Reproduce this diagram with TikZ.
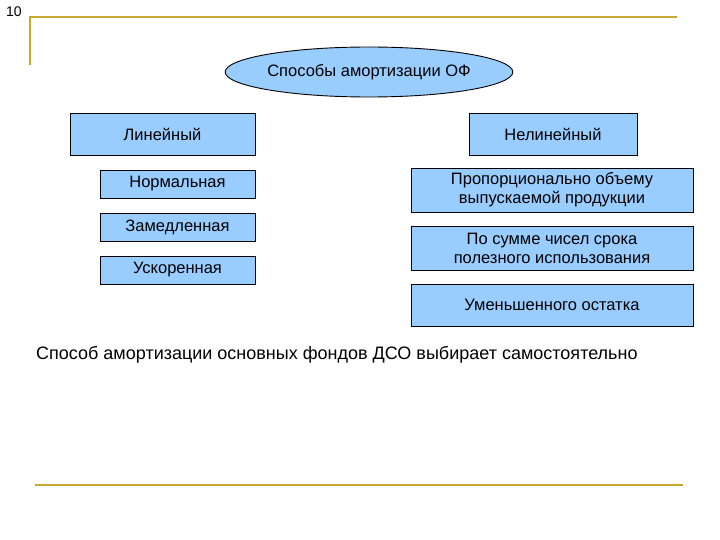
\documentclass[tikz,border=0pt]{standalone}
\usepackage{fontspec}
\setmainfont{Liberation Sans}
\usetikzlibrary{shapes.geometric}
\definecolor{bl}{HTML}{99CCFF}
\definecolor{gold}{HTML}{C8A830}
\begin{document}
\begin{tikzpicture}[x=1pt,y=-1pt,
  bx/.style={draw=black,fill=bl,line width=0.9pt,inner sep=0pt,align=center,font=\fontsize{16.5}{19}\selectfont},
  gl/.style={draw=gold,line width=2.5pt}]
\useasboundingbox (0,0) rectangle (720,540);
\node (num) at (14,12) {\fontsize{14}{15}\selectfont 10};
\coordinate (t1) at (30,65); \coordinate (t2) at (30,17); \coordinate (t3) at (677,17);
\draw[gl] (t1) -- (t2) -- (t3);
\coordinate (b1) at (35,485); \coordinate (b2) at (683,485);
\draw[gl] (b1) -- (b2);
\node[ellipse,draw=black,fill=bl,line width=0.9pt,minimum width=282pt,minimum height=50pt,inner sep=0pt,font=\fontsize{16.5}{19}\selectfont] (top) at (369,72) {Способы амортизации ОФ};
\node[bx,minimum width=185pt,minimum height=42pt] (lin) at (162.5,134) {Линейный};
\node[bx,minimum width=168pt,minimum height=42pt] (nl) at (553,134) {Нелинейный};
\node[bx,minimum width=155pt,minimum height=28pt] (n1) at (177.5,184) {Нормальная};
\node[bx,minimum width=155pt,minimum height=28pt] (n2) at (177.5,227) {Замедленная};
\node[bx,minimum width=155pt,minimum height=28pt] (n3) at (177.5,270) {Ускоренная};
\node[bx,minimum width=282pt,minimum height=44pt] (r1) at (552,190) {Пропорционально объему\\выпускаемой продукции};
\node[bx,minimum width=282pt,minimum height=44pt] (r2) at (552,248) {По сумме чисел срока\\полезного использования};
\node[bx,minimum width=282pt,minimum height=42pt] (r3) at (552,305) {Уменьшенного остатка};
\node[anchor=west,inner sep=0pt,font=\fontsize{18}{20}\selectfont] (note) at (36,355) {Способ амортизации основных фондов ДСО выбирает самостоятельно};
\end{tikzpicture}
\end{document}
